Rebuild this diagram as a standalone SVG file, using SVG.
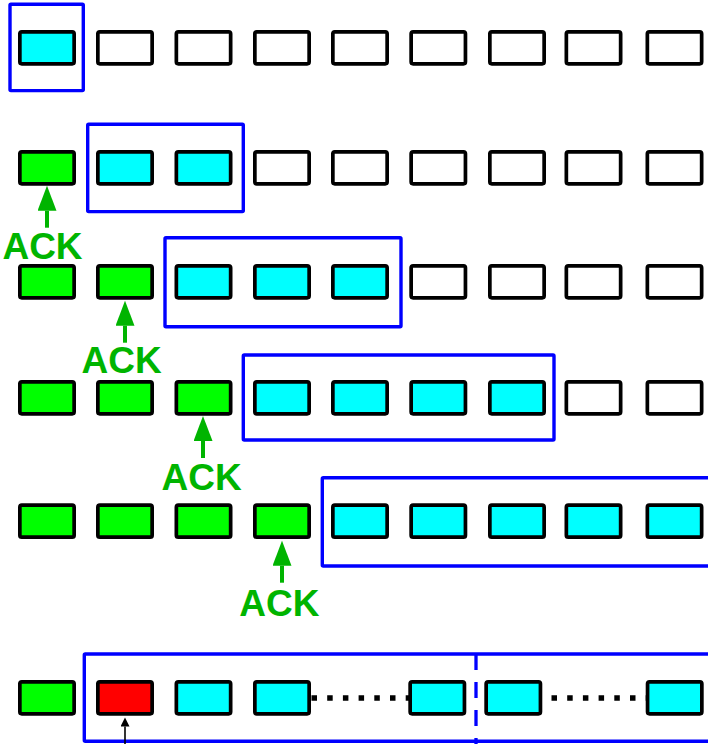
<svg xmlns="http://www.w3.org/2000/svg" width="708" height="744" viewBox="0 0 708 744">
<style>
.b{stroke:#000;stroke-width:3.7;}
.w{fill:#fff;}
.c{fill:#00ffff;}
.g{fill:#00ff00;}
.r{fill:#ff0000;}
.win{fill:none;stroke:#0000ff;stroke-width:3.4;}
.ack{font-family:"Liberation Sans",Arial,sans-serif;font-weight:bold;font-size:37px;fill:#00b400;text-anchor:middle;}
.ga{stroke:#00b400;stroke-width:4;}
.dot{stroke:#000;stroke-width:5.5;}
</style>
<defs>
<marker id="gh" markerUnits="userSpaceOnUse" markerWidth="26" markerHeight="20" refX="0" refY="9.5" orient="auto">
<path d="M0,0 L25,9.5 L0,19 z" fill="#00b400"/>
</marker>
<marker id="bh" markerUnits="userSpaceOnUse" markerWidth="10" markerHeight="10" refX="0" refY="4.5" orient="auto">
<path d="M0,0 L9,4.5 L0,9 z" fill="#000"/>
</marker>
</defs>

<g id="windows">
<rect class="win" x="10" y="4.3" width="73.3" height="86.3" rx="1"/>
<rect class="win" x="87.7" y="124.3" width="155.6" height="87.3" rx="1"/>
<rect class="win" x="165" y="237.7" width="236" height="89" rx="1"/>
<rect class="win" x="243.3" y="355" width="310.7" height="85" rx="1"/>
<rect class="win" x="322.3" y="477.7" width="420" height="88.3" rx="1"/>
<rect class="win" x="84.3" y="654" width="660" height="87.3" rx="1"/>
<line x1="476" y1="654" x2="476" y2="744" stroke="#0000ff" stroke-width="3.3" stroke-dasharray="16 12"/>
</g>

<g id="row1">
<rect class="b c" x="19.85" y="31.85" width="54.3" height="32" rx="2"/>
<rect class="b w" x="97.85" y="31.85" width="54.3" height="32" rx="2"/>
<rect class="b w" x="176.35" y="31.85" width="54.3" height="32" rx="2"/>
<rect class="b w" x="254.85" y="31.85" width="54.3" height="32" rx="2"/>
<rect class="b w" x="332.85" y="31.85" width="54.3" height="32" rx="2"/>
<rect class="b w" x="411.15" y="31.85" width="54.3" height="32" rx="2"/>
<rect class="b w" x="489.85" y="31.85" width="54.3" height="32" rx="2"/>
<rect class="b w" x="566.35" y="31.85" width="54.3" height="32" rx="2"/>
<rect class="b w" x="647.35" y="31.85" width="54.3" height="32" rx="2"/>
</g>

<g id="row2">
<rect class="b g" x="19.85" y="151.85" width="54.3" height="32" rx="2"/>
<rect class="b c" x="97.85" y="151.85" width="54.3" height="32" rx="2"/>
<rect class="b c" x="176.35" y="151.85" width="54.3" height="32" rx="2"/>
<rect class="b w" x="254.85" y="151.85" width="54.3" height="32" rx="2"/>
<rect class="b w" x="332.85" y="151.85" width="54.3" height="32" rx="2"/>
<rect class="b w" x="411.15" y="151.85" width="54.3" height="32" rx="2"/>
<rect class="b w" x="489.85" y="151.85" width="54.3" height="32" rx="2"/>
<rect class="b w" x="566.35" y="151.85" width="54.3" height="32" rx="2"/>
<rect class="b w" x="647.35" y="151.85" width="54.3" height="32" rx="2"/>
</g>

<g id="row3">
<rect class="b g" x="19.85" y="265.85" width="54.3" height="32" rx="2"/>
<rect class="b g" x="97.85" y="265.85" width="54.3" height="32" rx="2"/>
<rect class="b c" x="176.35" y="265.85" width="54.3" height="32" rx="2"/>
<rect class="b c" x="254.85" y="265.85" width="54.3" height="32" rx="2"/>
<rect class="b c" x="332.85" y="265.85" width="54.3" height="32" rx="2"/>
<rect class="b w" x="411.15" y="265.85" width="54.3" height="32" rx="2"/>
<rect class="b w" x="489.85" y="265.85" width="54.3" height="32" rx="2"/>
<rect class="b w" x="566.35" y="265.85" width="54.3" height="32" rx="2"/>
<rect class="b w" x="647.35" y="265.85" width="54.3" height="32" rx="2"/>
</g>

<g id="row4">
<rect class="b g" x="19.85" y="381.85" width="54.3" height="32" rx="2"/>
<rect class="b g" x="97.85" y="381.85" width="54.3" height="32" rx="2"/>
<rect class="b g" x="176.35" y="381.85" width="54.3" height="32" rx="2"/>
<rect class="b c" x="254.85" y="381.85" width="54.3" height="32" rx="2"/>
<rect class="b c" x="332.85" y="381.85" width="54.3" height="32" rx="2"/>
<rect class="b c" x="411.15" y="381.85" width="54.3" height="32" rx="2"/>
<rect class="b c" x="489.85" y="381.85" width="54.3" height="32" rx="2"/>
<rect class="b w" x="566.35" y="381.85" width="54.3" height="32" rx="2"/>
<rect class="b w" x="647.35" y="381.85" width="54.3" height="32" rx="2"/>
</g>

<g id="row5">
<rect class="b g" x="19.85" y="505.15" width="54.3" height="32" rx="2"/>
<rect class="b g" x="97.85" y="505.15" width="54.3" height="32" rx="2"/>
<rect class="b g" x="176.35" y="505.15" width="54.3" height="32" rx="2"/>
<rect class="b g" x="254.85" y="505.15" width="54.3" height="32" rx="2"/>
<rect class="b c" x="332.85" y="505.15" width="54.3" height="32" rx="2"/>
<rect class="b c" x="411.15" y="505.15" width="54.3" height="32" rx="2"/>
<rect class="b c" x="489.85" y="505.15" width="54.3" height="32" rx="2"/>
<rect class="b c" x="566.35" y="505.15" width="54.3" height="32" rx="2"/>
<rect class="b c" x="647.35" y="505.15" width="54.3" height="32" rx="2"/>
</g>

<g id="connectors">
<line class="dot" x1="311.5" y1="698" x2="409.5" y2="698" stroke-dasharray="5.5 10.2"/>
<line class="dot" x1="551.5" y1="698" x2="648" y2="698" stroke-dasharray="5.5 10.2"/>
<line class="ga" x1="47" y1="227.7" x2="47" y2="210.7" marker-end="url(#gh)"/>
<line class="ga" x1="125" y1="342.7" x2="125" y2="325.7" marker-end="url(#gh)"/>
<line class="ga" x1="203" y1="458" x2="203" y2="441" marker-end="url(#gh)"/>
<line class="ga" x1="282" y1="582.7" x2="282" y2="565.7" marker-end="url(#gh)"/>
<line x1="125" y1="744" x2="125" y2="726.5" stroke="#000" stroke-width="1.6" marker-end="url(#bh)"/>
</g>

<g id="row6">
<rect class="b g" x="19.85" y="681.85" width="54.3" height="32" rx="2"/>
<rect class="b r" x="97.85" y="681.85" width="54.3" height="32" rx="2"/>
<rect class="b c" x="176.35" y="681.85" width="54.3" height="32" rx="2"/>
<rect class="b c" x="254.85" y="681.85" width="54.3" height="32" rx="2"/>
<rect class="b c" x="410.15" y="681.85" width="54.3" height="32" rx="2"/>
<rect class="b c" x="486.15" y="681.85" width="54.3" height="32" rx="2"/>
<rect class="b c" x="647.55" y="681.85" width="54.3" height="32" rx="2"/>
</g>

<g id="labels">
<text class="ack" x="42.5" y="259">ACK</text>
<text class="ack" x="121.7" y="373.3">ACK</text>
<text class="ack" x="201.7" y="490">ACK</text>
<text class="ack" x="279.3" y="616">ACK</text>
</g>
</svg>
